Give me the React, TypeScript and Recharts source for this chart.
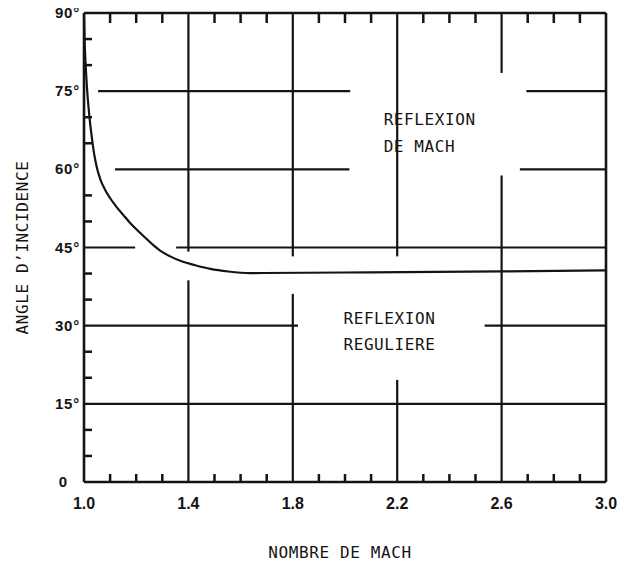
import { ComposedChart, Line, XAxis, YAxis, ReferenceLine, ReferenceDot } from 'recharts'

// courbe limite entre reflexion reguliere et reflexion de Mach
const mach = [
  1.0, 1.0023, 1.0058, 1.0115, 1.0192, 1.0288, 1.0384, 1.0499, 1.0633, 1.0806, 1.0998, 1.1228, 1.1497, 1.1804,
  1.215, 1.2534, 1.2917, 1.3301, 1.3762, 1.4261, 1.4837, 1.5528, 1.6372, 2.0, 2.6, 3.0,
]
const angle = [
  90, 84.8, 80.6, 75.6, 70.9, 66.6, 63.1, 60.2, 58.0, 56.1, 54.5, 52.9, 51.3, 49.5, 47.8, 46.0, 44.4, 43.3, 42.3,
  41.6, 40.9, 40.4, 40.1, 40.2, 40.4, 40.6,
]

const xMajor = [1.0, 1.4, 1.8, 2.2, 2.6, 3.0]
const xMinor = [1.1, 1.2, 1.3, 1.5, 1.6, 1.7, 1.9, 2.0, 2.1, 2.3, 2.4, 2.5, 2.7, 2.8, 2.9]
const yMajor = [0, 15, 30, 45, 60, 75, 90]
const yMinor = [5, 10, 20, 25, 35, 40, 50, 55, 65, 70, 80, 85]

// grille interrompue autour des textes et de la courbe
const hGrid = [
  { y: 75, from: 1.054, to: 2.02 },
  { y: 75, from: 2.695, to: 3.0 },
  { y: 60, from: 1.119, to: 2.017 },
  { y: 60, from: 2.67, to: 3.0 },
  { y: 45, from: 1.0, to: 1.196 },
  { y: 45, from: 1.353, to: 3.0 },
  { y: 30, from: 1.0, to: 1.82 },
  { y: 30, from: 2.535, to: 3.0 },
  { y: 15, from: 1.0, to: 3.0 },
]
const vGrid = [
  { x: 1.4, from: 90, to: 44.2 },
  { x: 1.4, from: 38.7, to: 0 },
  { x: 1.8, from: 90, to: 43.3 },
  { x: 1.8, from: 36.1, to: 0 },
  { x: 2.2, from: 90, to: 43.3 },
  { x: 2.2, from: 19.6, to: 0 },
  { x: 2.6, from: 90, to: 78.5 },
  { x: 2.6, from: 58.8, to: 0 },
]

const notes = [
  { text: 'REFLEXION', x: 2.148, y: 68.5 },
  { text: 'DE MACH', x: 2.148, y: 63.3 },
  { text: 'REFLEXION', x: 1.994, y: 30.4 },
  { text: 'REGULIERE', x: 1.994, y: 25.3 },
]

const data = mach.map((m, i) => ({ m, a: angle[i] }))

const INK = '#141414'
const tickFont = '"Liberation Sans", Arial, sans-serif'
const monoFont = '"DejaVu Sans Mono", monospace'

const isIn = (list: number[], v: number) => list.some((t) => Math.abs(t - v) < 1e-6)

function BottomTick({ x, y, payload }: any) {
  const v = payload.value
  if (isIn(xMajor, v)) {
    return (
      <text x={x} y={y + 27} textAnchor="middle" fontFamily={tickFont} fontWeight={700} fontSize={16} fill={INK}>
        {v.toFixed(1)}
      </text>
    )
  }
  return <line x1={x} x2={x} y1={y} y2={y - 8} stroke={INK} strokeWidth={2.5} />
}

function TopTick({ x, y, payload }: any) {
  if (isIn(xMajor, payload.value)) return <g />
  return <line x1={x} x2={x} y1={y} y2={y + 10} stroke={INK} strokeWidth={2.5} />
}

function LeftTick({ x, y, payload }: any) {
  const v = payload.value
  if (isIn(yMajor, v)) {
    return (
      <text
        x={v === 0 ? x - 16 : x - 4}
        y={y + 5}
        textAnchor="end"
        fontFamily={tickFont}
        fontWeight={700}
        fontSize={15}
        letterSpacing={0.8}
        fill={INK}
      >
        {v === 0 ? '0' : `${v}°`}
      </text>
    )
  }
  return <line x1={x} x2={x + 8} y1={y} y2={y} stroke={INK} strokeWidth={2.5} />
}

function RightTick({ x, y, payload }: any) {
  if (isIn(yMajor, payload.value)) return <g />
  return <line x1={x} x2={x - 11} y1={y} y2={y} stroke={INK} strokeWidth={2.5} />
}

function Note({ cx, cy, text }: any) {
  return (
    <text x={cx} y={cy} fontFamily={monoFont} fontSize={16} letterSpacing={0.6} fill={INK}>
      {text}
    </text>
  )
}

export default function App() {
  const axisLine = { stroke: INK, strokeWidth: 2.6 }
  return (
    <div style={{ width: 610, height: 558, background: '#fff' }}>
      <style>{`.recharts-surface{overflow:visible}`}</style>
      <ComposedChart width={610} height={558} data={data} margin={{ top: 4, right: 11, bottom: 0, left: 0 }}>
        <XAxis
          xAxisId="x"
          dataKey="m"
          type="number"
          domain={[1, 3]}
          ticks={[...xMajor, ...xMinor]}
          interval={0}
          height={84}
          tickSize={0}
          tickMargin={0}
          tickLine={false}
          axisLine={axisLine}
          tick={<BottomTick />}
          label={{
            value: 'NOMBRE DE MACH',
            position: 'insideBottom',
            offset: 8,
            dx: -5,
            style: { fontFamily: monoFont, fontSize: 16, letterSpacing: 0.6, fill: INK },
          }}
        />
        <XAxis
          xAxisId="top"
          orientation="top"
          dataKey="m"
          type="number"
          domain={[1, 3]}
          ticks={[...xMajor, ...xMinor]}
          interval={0}
          height={1}
          tickSize={0}
          tickMargin={0}
          tickLine={false}
          axisLine={axisLine}
          tick={<TopTick />}
        />
        <YAxis
          yAxisId="y"
          type="number"
          domain={[0, 90]}
          ticks={[...yMajor, ...yMinor]}
          interval={0}
          width={76}
          tickSize={0}
          tickMargin={0}
          tickLine={false}
          axisLine={axisLine}
          tick={<LeftTick />}
          label={{
            value: 'ANGLE D’INCIDENCE',
            angle: -90,
            position: 'insideLeft',
            offset: 14,
            style: { fontFamily: monoFont, fontSize: 16, letterSpacing: 0.6, fill: INK, textAnchor: 'middle' },
          }}
        />
        <YAxis
          yAxisId="right"
          orientation="right"
          type="number"
          domain={[0, 90]}
          ticks={[...yMajor, ...yMinor]}
          interval={0}
          width={1}
          tickSize={0}
          tickMargin={0}
          tickLine={false}
          axisLine={axisLine}
          tick={<RightTick />}
        />
        {hGrid.map((g, i) => (
          <ReferenceLine
            key={`h${i}`}
            xAxisId="x"
            yAxisId="y"
            segment={[{ x: g.from, y: g.y }, { x: g.to, y: g.y }]}
            stroke={INK}
            strokeWidth={2.2}
            ifOverflow="visible"
          />
        ))}
        {vGrid.map((g, i) => (
          <ReferenceLine
            key={`v${i}`}
            xAxisId="x"
            yAxisId="y"
            segment={[{ x: g.x, y: g.from }, { x: g.x, y: g.to }]}
            stroke={INK}
            strokeWidth={2.2}
            ifOverflow="visible"
          />
        ))}
        {notes.map((n, i) => (
          <ReferenceDot
            key={`n${i}`}
            xAxisId="x"
            yAxisId="y"
            x={n.x}
            y={n.y}
            r={0}
            shape={(p: any) => <Note {...p} text={n.text} />}
          />
        ))}
        <Line
          xAxisId="x"
          yAxisId="y"
          dataKey="a"
          type="monotone"
          stroke={INK}
          strokeWidth={2.2}
          dot={false}
          isAnimationActive={false}
        />
      </ComposedChart>
    </div>
  )
}
